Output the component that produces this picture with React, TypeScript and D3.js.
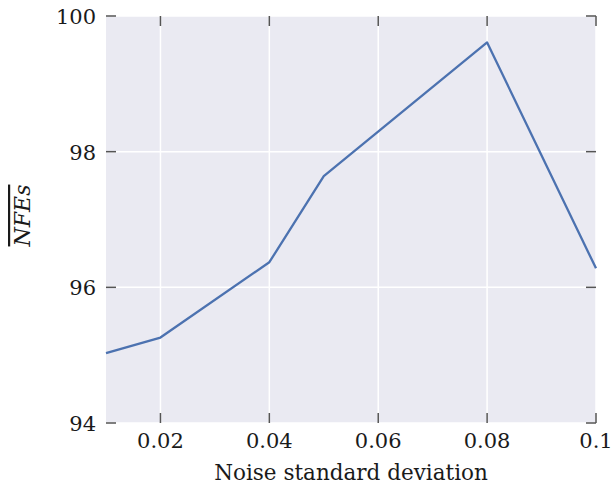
import React from "react";
import * as d3 from "d3";

const noiseStd = [0.01, 0.02, 0.04, 0.05, 0.08, 0.1];
const nfes = [95.03, 95.26, 96.37, 97.64, 99.61, 96.28];
const xTicks = [0.02, 0.04, 0.06, 0.08, 0.1];
const xTickLabels = ["0.02", "0.04", "0.06", "0.08", "0.1"];
const yTicks = [94, 96, 98, 100];
const yTickLabels = ["94", "96", "98", "100"];

const W = 613;
const H = 489;
const M = { left: 106, right: 17, top: 16, bottom: 66 };
const FONT = "DejaVu Serif";

export default function App() {
  const x = d3.scaleLinear().domain([0.01, 0.1]).range([M.left, W - M.right]);
  const y = d3.scaleLinear().domain([94, 100]).range([H - M.bottom, M.top]);
  const line = d3
    .line<number>()
    .x((_, i) => x(noiseStd[i]))
    .y((d) => y(d));
  const x0 = M.left, x1 = W - M.right, y0 = H - M.bottom, y1 = M.top;
  const tickLen = 10;
  const tickColor = "#555555";
  return (
    <svg width={W} height={H} style={{ position: "absolute", left: 0, top: 0 }}>
      <rect x={x0} y={y1} width={x1 - x0} height={y0 - y1} fill="#EAEAF2" />
      {xTicks.map((t) => (
        <line key={"gx" + t} x1={x(t)} x2={x(t)} y1={y1} y2={y0} stroke="#fff" strokeWidth={1.5} />
      ))}
      {yTicks.map((t) => (
        <line key={"gy" + t} x1={x0} x2={x1} y1={y(t)} y2={y(t)} stroke="#fff" strokeWidth={1.5} />
      ))}
      {xTicks.map((t) => (
        <g key={"tx" + t}>
          <line x1={x(t)} x2={x(t)} y1={y0} y2={y0 - tickLen} stroke={tickColor} strokeWidth={1.5} />
          <line x1={x(t)} x2={x(t)} y1={y1} y2={y1 + tickLen} stroke={tickColor} strokeWidth={1.5} />
        </g>
      ))}
      {yTicks.map((t) => (
        <g key={"ty" + t}>
          <line x1={x0} x2={x0 + tickLen} y1={y(t)} y2={y(t)} stroke={tickColor} strokeWidth={1.5} />
          <line x1={x1} x2={x1 - tickLen} y1={y(t)} y2={y(t)} stroke={tickColor} strokeWidth={1.5} />
        </g>
      ))}
      <path d={line(nfes) || ""} fill="none" stroke="#4C72B0" strokeWidth={2.3} strokeLinejoin="round" />
      {xTicks.map((t, i) => (
        <text key={"lx" + t} x={x(t)} y={y0 + 25} style={{ fontFamily: FONT }} fontSize={21} textAnchor="middle" fill="#1a1a1a">
          {xTickLabels[i]}
        </text>
      ))}
      {yTicks.map((t, i) => (
        <text key={"ly" + t} x={x0 - 10} y={y(t) + 8} style={{ fontFamily: FONT }} fontSize={21} textAnchor="end" fill="#1a1a1a">
          {yTickLabels[i]}
        </text>
      ))}
      <text x={(x0 + x1) / 2} y={H - 9} style={{ fontFamily: FONT }} fontSize={21.5} textAnchor="middle" fill="#1a1a1a">
        Noise standard deviation
      </text>
      <text
        transform={`translate(30, ${(y0 + y1) / 2 - 4}) rotate(-90)`}
        fontSize={22}
        fontStyle="italic"
        textAnchor="middle"
        fill="#1a1a1a"
        style={{ textDecoration: "overline", fontFamily: FONT }}
      >
        NFEs
      </text>
    </svg>
  );
}
